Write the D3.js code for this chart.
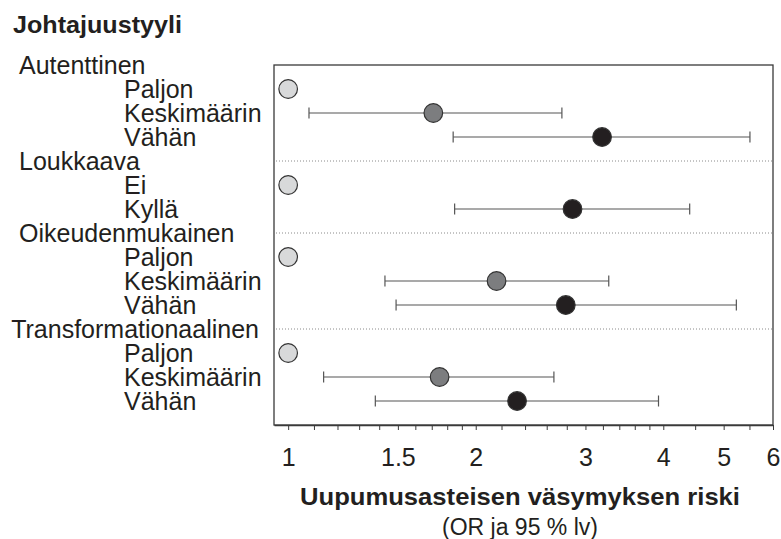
<!DOCTYPE html>
<html>
<head>
<meta charset="utf-8">
<script src="https://cdn.jsdelivr.net/npm/d3@7"></script>
<style>
  body { margin: 0; background: #fff; }
  text { font-family: "Liberation Sans", Arial, sans-serif; fill: #231f20; }
</style>
</head>
<body>
<svg id="chart" width="781" height="539"></svg>
<script>
// group headers and the rows under each of them
const groups = ['Autenttinen', 'Loukkaava', 'Oikeudenmukainen', 'Transformationaalinen'];
const rowGroup = [0, 0, 0, 1, 1, 2, 2, 2, 3, 3, 3];
const rowLabels = ['Paljon', 'Keskimäärin', 'Vähän', 'Ei', 'Kyllä', 'Paljon', 'Keskimäärin', 'Vähän', 'Paljon', 'Keskimäärin', 'Vähän'];
// odds ratio and 95 % confidence interval (reference rows have no interval)
const oddsRatio = [1, 1.71, 3.19, 1, 2.86, 1, 2.16, 2.79, 1, 1.75, 2.33];
const ciLower = [null, 1.08, 1.84, null, 1.85, null, 1.43, 1.49, null, 1.14, 1.38];
const ciUpper = [null, 2.75, 5.51, null, 4.41, null, 3.27, 5.24, null, 2.67, 3.93];
const rowShade = ['ref', 'mid', 'high', 'ref', 'high', 'ref', 'mid', 'high', 'ref', 'mid', 'high'];

const tickLabels = [1, 1.5, 2, 3, 4, 5, 6];
const tickValues = [].concat(
	d3.range(10, 20).map((d) => d / 10),
	d3.range(10, 20).map((d) => d / 5),
	d3.range(8, 13).map((d) => d / 2)
);

const shadeFill = { ref: '#d8d9da', mid: '#7c7d7f', high: '#231f20' };

const PLOT = { left: 274, right: 773, top: 65, bottom: 425 };

// lay out: each group header takes a slot, then its rows
const slots = [];
groups.forEach((g, gi) => {
	slots.push({ type: 'group', label: g });
	rowLabels.forEach((lab, i) => {
		if (rowGroup[i] === gi) slots.push({ type: 'row', index: i, label: lab });
	});
});

const svg = d3.select('#chart');

const x = d3.scaleLog().domain([0.949, 6]).range([PLOT.left, PLOT.right]);
const y = d3.scaleLinear().domain([0, slots.length]).range([PLOT.top, PLOT.bottom]);

// title
svg.append('text')
	.attr('x', 13)
	.attr('y', 33)
	.attr('font-size', '24px')
	.attr('font-weight', 'bold')
	.attr('textLength', 169)
	.attr('lengthAdjust', 'spacingAndGlyphs')
	.text('Johtajuustyyli');

// frame
svg.append('rect')
	.attr('x', PLOT.left)
	.attr('y', PLOT.top)
	.attr('width', PLOT.right - PLOT.left)
	.attr('height', PLOT.bottom - PLOT.top)
	.attr('fill', 'none')
	.attr('stroke', '#3a3a3a')
	.attr('stroke-width', 1.3);

// dotted separators at group headers (except the first one)
slots.forEach((s, i) => {
	if (s.type === 'group' && i > 0) {
		svg.append('line')
			.attr('x1', PLOT.left + 2)
			.attr('x2', PLOT.right)
			.attr('y1', y(i))
			.attr('y2', y(i))
			.attr('stroke', '#8a8a8a')
			.attr('stroke-width', 1)
			.attr('stroke-dasharray', '1,2');
	}
});

// left labels
const labelGroup = svg.append('g');
slots.forEach((s, i) => {
	const t = labelGroup.append('text')
		.attr('y', y(i) + 9)
		.attr('font-size', '25px')
		.text(s.label);
	if (s.type === 'group') {
		const w = t.node().getComputedTextLength();
		t.attr('x', Math.min(19, 259 - w));
	} else {
		t.attr('x', 124);
	}
});

// markers
const rows = slots.map((s, i) => ({ ...s, slot: i })).filter((s) => s.type === 'row');
const marks = svg.append('g');

const ci = marks.selectAll('g.ci')
	.data(rows.filter((r) => ciLower[r.index] != null))
	.enter()
	.append('g')
	.attr('class', 'ci')
	.attr('stroke', '#555')
	.attr('stroke-width', 1.2);

ci.append('line')
	.attr('x1', (d) => x(ciLower[d.index]))
	.attr('x2', (d) => x(ciUpper[d.index]))
	.attr('y1', (d) => y(d.slot))
	.attr('y2', (d) => y(d.slot));

ci.selectAll('line.cap')
	.data((d) => [ciLower[d.index], ciUpper[d.index]].map((v) => ({ v, slot: d.slot })))
	.enter()
	.append('line')
	.attr('class', 'cap')
	.attr('x1', (d) => x(d.v))
	.attr('x2', (d) => x(d.v))
	.attr('y1', (d) => y(d.slot) - 5.5)
	.attr('y2', (d) => y(d.slot) + 5.5);

marks.selectAll('circle')
	.data(rows)
	.enter()
	.append('circle')
	.attr('cx', (d) => x(oddsRatio[d.index]))
	.attr('cy', (d) => y(d.slot))
	.attr('r', 9.3)
	.attr('fill', (d) => shadeFill[rowShade[d.index]])
	.attr('stroke', '#333')
	.attr('stroke-width', 1.2);

// x axis
const axis = svg.append('g')
	.attr('transform', `translate(0,${PLOT.bottom})`)
	.call(
		d3.axisBottom(x)
			.tickValues(tickValues)
			.tickSize(5)
			.tickSizeOuter(0)
			.tickPadding(18)
			.tickFormat((d) => (tickLabels.some((t) => Math.abs(t - d) < 1e-9) ? d3.format('')(+d.toFixed(1)) : ''))
	);
axis.select('.domain').attr('stroke', '#3a3a3a').attr('stroke-width', 1.3);
axis.selectAll('.tick line').attr('stroke', '#3a3a3a');
axis.selectAll('.tick text')
	.attr('font-size', '25px')
	.attr('font-family', '"Liberation Sans", Arial, sans-serif')
	.attr('fill', '#231f20');

// axis title
const cx = 520;
svg.append('text')
	.attr('x', cx)
	.attr('y', 505)
	.attr('text-anchor', 'middle')
	.attr('font-size', '24px')
	.attr('font-weight', 'bold')
	.attr('textLength', 440)
	.attr('lengthAdjust', 'spacingAndGlyphs')
	.text('Uupumusasteisen väsymyksen riski');

svg.append('text')
	.attr('x', cx)
	.attr('y', 535)
	.attr('text-anchor', 'middle')
	.attr('font-size', '23px')
	.text('(OR ja 95 % lv)');
</script>
</body>
</html>
